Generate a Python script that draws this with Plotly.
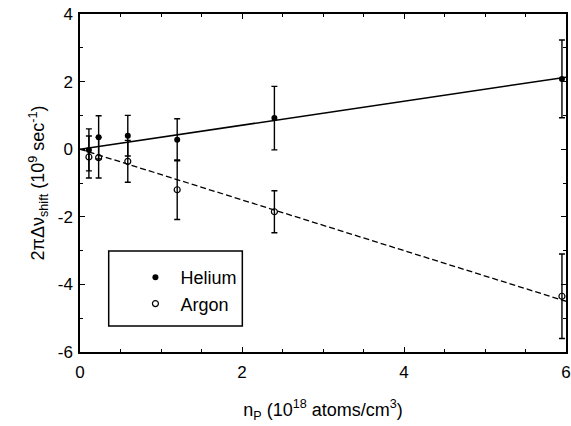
import plotly.graph_objects as go

# Data
he_x = [0.11, 0.23, 0.59, 1.2, 2.4, 5.95]
he_y = [-0.02, 0.35, 0.40, 0.28, 0.92, 2.08]
he_err = [0.62, 0.64, 0.60, 0.62, 0.94, 1.15]

ar_x = [0.11, 0.23, 0.59, 1.2, 2.4, 5.95]
ar_y = [-0.23, -0.25, -0.36, -1.20, -1.85, -4.35]
ar_err = [0.62, 0.60, 0.62, 0.88, 0.62, 1.25]

fit_x = [0, 6]
fit_he = [0, 2.13]
fit_ar = [0, -4.5]

x_ticks = [0, 2, 4, 6]
y_ticks = [-6, -4, -2, 0, 2, 4]

FONT = "Liberation Sans, Arial, sans-serif"

fig = go.Figure()

fig.add_trace(go.Scatter(x=fit_x, y=fit_he, mode="lines",
                         line=dict(color="black", width=1.5),
                         showlegend=False, hoverinfo="skip"))
fig.add_trace(go.Scatter(x=fit_x, y=fit_ar, mode="lines",
                         line=dict(color="black", width=1.3, dash="6px,3px"),
                         showlegend=False, hoverinfo="skip"))

fig.add_trace(go.Scatter(x=he_x, y=he_y, mode="markers", name="\u00a0Helium",
                         marker=dict(symbol="circle", size=6, color="black"),
                         error_y=dict(type="data", array=he_err, color="black",
                                      thickness=1.4, width=3)))
fig.add_trace(go.Scatter(x=ar_x, y=ar_y, mode="markers", name="\u00a0Argon",
                         marker=dict(symbol="circle-open", size=6, color="black",
                                     line=dict(width=1.2, color="black")),
                         error_y=dict(type="data", array=ar_err, color="black",
                                      thickness=1.4, width=3)))

PW, PH = 491, 338
# legend frame
fig.add_shape(type="rect", xref="paper", yref="paper",
              x0=29/PW, x1=164/PW, y0=(352-326)/PH, y1=(352-251)/PH,
              line=dict(color="black", width=1.5), fillcolor="rgba(0,0,0,0)")

fig.update_layout(
    width=571, height=426,
    margin=dict(l=80, r=0, t=14, b=74),
    paper_bgcolor="white", plot_bgcolor="white",
    font=dict(family=FONT, size=17, color="black"),
    showlegend=True,
    legend=dict(x=(136-80)/PW, y=(352-259)/PH, xanchor="left", yanchor="top",
                bgcolor="rgba(0,0,0,0)", borderwidth=0,
                font=dict(size=18, family=FONT), itemwidth=30,
                tracegroupgap=0),
    xaxis=dict(range=[0, 6.0], tickvals=x_ticks, ticktext=[str(v) for v in x_ticks],
               ticks="inside", ticklen=5, tickwidth=1, tickcolor="black",
               showline=True, linecolor="black", linewidth=1.5, mirror="allticks",
               showgrid=False, zeroline=False, ticklabeloverflow="allow",
               minor=dict(ticks="inside", dtick=0.5, ticklen=3, tickcolor="black", showgrid=False),
               tickfont=dict(size=17), ticklabelstandoff=4,
               title=dict(text="n<sub>P</sub> (10<sup>18</sup> atoms/cm<sup>3</sup>)",
                          font=dict(size=18), standoff=22)),
    yaxis=dict(range=[-6, 4], tickvals=y_ticks, ticktext=[str(v) for v in y_ticks],
               ticks="inside", ticklen=5, tickwidth=1, tickcolor="black",
               showline=True, linecolor="black", linewidth=1.5, mirror="allticks",
               showgrid=False, zeroline=False,
               minor=dict(ticks="inside", dtick=1, ticklen=3, tickcolor="black", showgrid=False),
               tickfont=dict(size=17), ticklabelstandoff=2,
               title=dict(text="2πΔν<sub>shift</sub> (10<sup>9</sup> sec<sup>-1</sup>)",
                          font=dict(size=18), standoff=8)),
)

fig.write_html("out.html")
